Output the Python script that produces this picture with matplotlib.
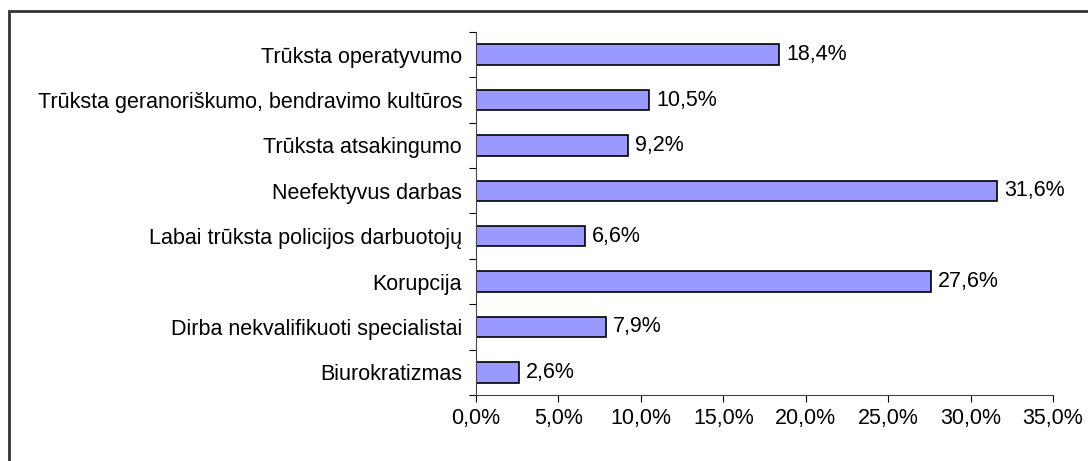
import matplotlib
matplotlib.use("Agg")
from matplotlib import pyplot as plt
from matplotlib.patches import Rectangle

categories = [
    "Trūksta operatyvumo",
    "Trūksta geranoriškumo, bendravimo kultūros",
    "Trūksta atsakingumo",
    "Neefektyvus darbas",
    "Labai trūksta policijos darbuotojų",
    "Korupcija",
    "Dirba nekvalifikuoti specialistai",
    "Biurokratizmas",
]
values = [18.4, 10.5, 9.2, 31.6, 6.6, 27.6, 7.9, 2.6]
xticks = [0, 5, 10, 15, 20, 25, 30, 35]

plt.rcParams["font.family"] = ["Liberation Sans", "DejaVu Sans"]
plt.rcParams["font.size"] = 15.5

fig = plt.figure(figsize=(10.88, 4.61), dpi=100)
ax = fig.add_axes([476 / 1088, 66 / 461, 577 / 1088, 363 / 461])

pos = list(range(len(categories)))
ax.barh(pos, values, height=0.45, color="#9999ff", edgecolor="black", linewidth=1.2)
for p, v in zip(pos, values):
    ax.text(v + 0.42, p, f"{v:.1f}%".replace(".", ","), va="center", ha="left")

ax.set_ylim(len(categories) - 0.5, -0.5)
ax.set_yticks([p + 0.5 for p in range(-1, len(categories))])
ax.set_yticklabels([])
ax.set_yticks(pos, minor=True)
ax.set_yticklabels(categories, minor=True)
ax.tick_params(axis="y", which="minor", length=0, pad=10)
ax.tick_params(axis="y", which="major", length=5, direction="out")

ax.set_xlim(0, 35)
ax.set_xticks(xticks)
ax.set_xticklabels([f"{t:.1f}%".replace(".", ",") for t in xticks])
ax.tick_params(axis="x", length=5, direction="out", pad=4)

for s in ["top", "right"]:
    ax.spines[s].set_visible(False)
for s in ["left", "bottom"]:
    ax.spines[s].set_color("#444444")

# chart frame
fig.patches.append(Rectangle((9 / 1088, -0.1), 1.2, (461 - 11) / 461 + 0.1,
                             transform=fig.transFigure, fill=False,
                             edgecolor="#333333", linewidth=2))

fig.savefig("out.png", dpi=100)
